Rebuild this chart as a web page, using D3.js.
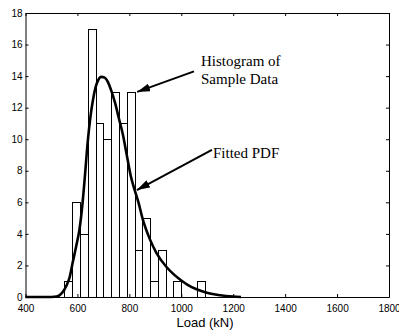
<!DOCTYPE html>
<meta charset="utf-8">
<style>
  body { margin: 0; background: white; }
  .bar { fill: white; stroke: black; stroke-width: 1px; }
  .pdf { fill: none; stroke: black; stroke-width: 2.6px; }
  .axis text { font: 10px "Liberation Sans", Arial, sans-serif; fill: black; }
  .axis line, .axis path { stroke: black; }
  .note { font: 15px "Liberation Serif", "Times New Roman", serif; fill: black; }
</style>
<body>
<script src="https://d3js.org/d3.v7.min.js"></script>
<script>

// histogram bins (left edge, kN) and counts
var binStart = [550, 580, 610, 640, 670, 700, 730, 760, 790, 820, 850, 880, 910, 940, 970, 1000, 1030, 1060];
var binWidth = 30;
var counts   = [1, 6, 4, 17, 11, 10, 13, 11, 13, 3, 5, 1, 3, 0, 1, 0, 0, 1];

// fitted pdf (load, scaled count)
var pdfLoad  = [400, 500, 520, 540, 557, 570, 582, 595, 608, 620, 628, 640, 650, 660, 670, 680, 692, 705, 718, 730, 745, 760, 775, 790, 805, 820, 835, 852, 878, 904, 943, 970, 1000, 1040, 1080, 1110, 1150, 1200, 1230];
var pdfCount = [0, 0, 0.03, 0.24, 0.7, 1.25, 2.2, 3.2, 4.3, 6.0, 7.5, 9.9, 11.4, 12.5, 13.3, 13.75, 13.95, 13.9, 13.6, 13.1, 12.3, 11.3, 10.3, 9.0, 7.7, 6.8, 6.0, 4.9, 3.7, 2.8, 1.9, 1.45, 1.05, 0.62, 0.36, 0.22, 0.11, 0.03, 0];

var xTicks = [400, 600, 800, 1000, 1200, 1400, 1600, 1800];
var yTicks = [0, 2, 4, 6, 8, 10, 12, 14, 16, 18];

// annotations: text lines and arrows (tail -> tip) in data units
var noteText = ["Histogram of", "Sample Data", "Fitted PDF"];
var noteX    = [1076, 1076, 1122];
var noteY    = [14.64, 13.5, 8.84];
var arrowFrom = [[1049, 14.3], [1118, 9.32]];
var arrowTo   = [[830, 13.0], [829, 6.78]];

var W = 399, H = 331;
var margin = {top: 13, right: 10, bottom: 34, left: 25.5};

var svg = d3.select("body").append("svg")
    .attr("width", W)
    .attr("height", H);

var x = d3.scaleLinear().domain([400, 1800]).range([margin.left, W - margin.right]);
var y = d3.scaleLinear().domain([0, 18]).range([H - margin.bottom, margin.top]);

// bars
svg.selectAll("rect.bar")
  .data(counts)
  .enter().append("rect")
    .attr("class", "bar")
    .attr("x", function(d, i) { return Math.round(x(binStart[i])) + 0.5; })
    .attr("width", function(d, i) { return Math.round(x(binStart[i] + binWidth)) - Math.round(x(binStart[i])); })
    .attr("y", function(d) { return Math.round(y(d)) + 0.5; })
    .attr("height", function(d) { return Math.round(y(0)) - Math.round(y(d)); });

// fitted pdf line
var pts = pdfLoad.map(function(v, i) { return [v, pdfCount[i]]; });
var line = d3.line()
  .curve(d3.curveMonotoneX)
  .x(function(d) { return x(d[0]); })
  .y(function(d) { return y(d[1]); });

svg.append("path")
  .datum(pts)
  .attr("class", "pdf")
  .attr("d", line);

// axes, matlab style: ticks inward on all four sides
svg.append("g").attr("class", "axis")
  .attr("transform", "translate(0," + y(0) + ")")
  .call(d3.axisBottom(x).tickValues(xTicks).tickSizeInner(-3).tickSizeOuter(0).tickPadding(7.5).tickFormat(d3.format("d")));

svg.append("g").attr("class", "axis")
  .attr("transform", "translate(0," + y(18) + ")")
  .call(d3.axisTop(x).tickValues(xTicks).tickSizeInner(-3).tickSizeOuter(0).tickFormat(""));

svg.append("g").attr("class", "axis")
  .attr("transform", "translate(" + x(400) + ",0)")
  .call(d3.axisLeft(y).tickValues(yTicks).tickSizeInner(-3).tickSizeOuter(0).tickPadding(3));

svg.append("g").attr("class", "axis")
  .attr("transform", "translate(" + x(1800) + ",0)")
  .call(d3.axisRight(y).tickValues(yTicks).tickSizeInner(-3).tickSizeOuter(0).tickFormat(""));

// x label
svg.append("text")
  .attr("x", 205)
  .attr("y", H - 4)
  .attr("text-anchor", "middle")
  .style("font", "13px 'Liberation Sans', Arial, sans-serif")
  .text("Load (kN)");

// arrow head
svg.append("defs").append("marker")
  .attr("id", "head")
  .attr("viewBox", "0 0 13 8")
  .attr("refX", 13).attr("refY", 4)
  .attr("markerWidth", 13).attr("markerHeight", 8)
  .attr("markerUnits", "userSpaceOnUse")
  .attr("orient", "auto")
  .append("path").attr("d", "M0,0L13,4L0,8Z").attr("fill", "black");

svg.selectAll("line.arrow")
  .data(arrowFrom)
  .enter().append("line")
    .attr("class", "arrow")
    .attr("x1", function(d) { return x(d[0]); })
    .attr("y1", function(d) { return y(d[1]); })
    .attr("x2", function(d, i) { return x(arrowTo[i][0]); })
    .attr("y2", function(d, i) { return y(arrowTo[i][1]); })
    .attr("stroke", "black")
    .attr("stroke-width", 2)
    .attr("marker-end", "url(#head)");

svg.selectAll("text.note")
  .data(noteText)
  .enter().append("text")
    .attr("class", "note")
    .attr("x", function(d, i) { return x(noteX[i]); })
    .attr("y", function(d, i) { return y(noteY[i]); })
    .text(function(d) { return d; });

</script>
</body>
